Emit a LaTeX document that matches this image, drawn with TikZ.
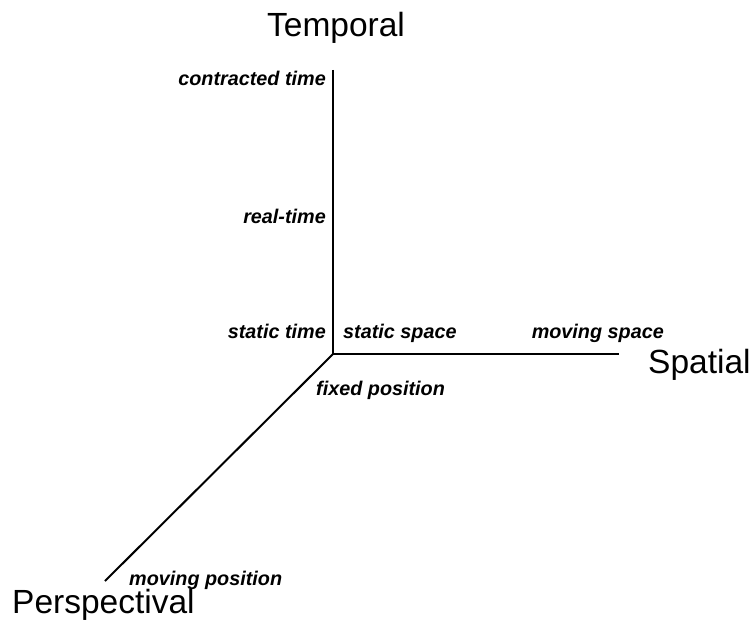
\documentclass[tikz,border=0pt]{standalone}
\usepackage{fontspec}
\setmainfont{Liberation Sans}
\begin{document}
\begin{tikzpicture}[x=1pt,y=-1pt,
  axis/.style={line width=2pt,line cap=butt},
  dimlabel/.style={font=\fontsize{33.5}{38}\selectfont,inner sep=0pt},
  ticklabel/.style={font=\fontsize{19.8}{22}\selectfont\bfseries\itshape,inner sep=0pt}]
\useasboundingbox (0,0) rectangle (751,623);
% axes
\coordinate (O) at (333,354);
\coordinate (T) at (333,70);
\coordinate (S) at (619,354);
\coordinate (P) at (105,581);
\draw[axis] (T) -- (O) -- (S);
\draw[axis] (O) -- (P);
% axis names
\node[dimlabel,anchor=base] (temporal) at (336,37) {Temporal};
\node[dimlabel,anchor=base west] (spatial) at (648,373) {Spatial};
\node[dimlabel,anchor=base west] (persp) at (12,613) {Perspectival};
% temporal values
\node[ticklabel,anchor=base east] (contracted) at (326,85) {contracted time};
\node[ticklabel,anchor=base east] (realtime) at (326,223) {real-time};
\node[ticklabel,anchor=base east] (statictime) at (326,338) {static time};
% spatial values
\node[ticklabel,anchor=base west] (staticspace) at (343,338) {static space};
\node[ticklabel,anchor=base east] (movingspace) at (664,338) {moving space};
% perspectival values
\node[ticklabel,anchor=base west] (fixedpos) at (316,395) {fixed position};
\node[ticklabel,anchor=base west] (movingpos) at (129,585) {moving position};
\end{tikzpicture}
\end{document}
